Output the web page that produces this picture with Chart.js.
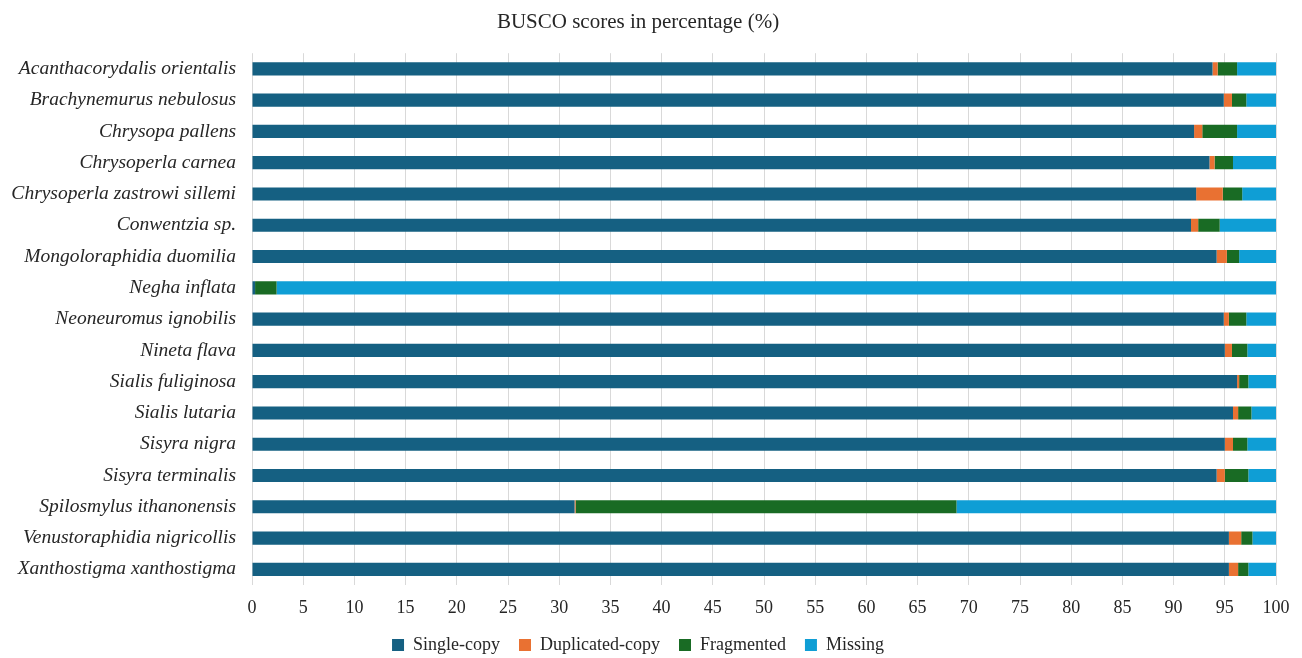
<!DOCTYPE html>
<html>
<head>
<meta charset="utf-8">
<title>BUSCO scores</title>
<script src="https://cdn.jsdelivr.net/npm/chart.js@4"></script>
<style>
  html, body { margin: 0; padding: 0; background: #ffffff; }
  #wrap { width: 1302px; height: 658px; position: relative; }
</style>
</head>
<body>
<div id="wrap"><canvas id="chart" width="1302" height="658"></canvas></div>
<script>
// Species assessed
const species = [
  'Acanthacorydalis orientalis',
  'Brachynemurus nebulosus',
  'Chrysopa pallens',
  'Chrysoperla carnea',
  'Chrysoperla zastrowi sillemi',
  'Conwentzia sp.',
  'Mongoloraphidia duomilia',
  'Negha inflata',
  'Neoneuromus ignobilis',
  'Nineta flava',
  'Sialis fuliginosa',
  'Sialis lutaria',
  'Sisyra nigra',
  'Sisyra terminalis',
  'Spilosmylus ithanonensis',
  'Venustoraphidia nigricollis',
  'Xanthostigma xanthostigma'
];

// BUSCO categories (%)
const singleCopy     = [93.8, 94.9, 92.0, 93.5, 92.2, 91.7, 94.2, 0.3, 94.9, 95.0, 96.2, 95.8, 95.0, 94.2, 31.5, 95.4, 95.4];
const duplicatedCopy = [0.5, 0.8, 0.8, 0.5, 2.6, 0.7, 1.0, 0.0, 0.5, 0.7, 0.2, 0.5, 0.8, 0.8, 0.1, 1.2, 0.9];
const fragmented     = [1.9, 1.4, 3.4, 1.8, 1.9, 2.1, 1.2, 2.1, 1.7, 1.5, 0.9, 1.3, 1.4, 2.3, 37.2, 1.1, 1.0];
const missing        = [3.8, 2.9, 3.8, 4.2, 3.3, 5.5, 3.6, 97.6, 2.9, 2.8, 2.7, 2.4, 2.8, 2.7, 31.2, 2.3, 2.7];

const seriesNames = ['Single-copy', 'Duplicated-copy', 'Fragmented', 'Missing'];
const seriesColors = ['#156082', '#E97132', '#196B24', '#0F9ED5'];
const seriesValues = [singleCopy, duplicatedCopy, fragmented, missing];

const serif = "'Liberation Serif', 'Times New Roman', serif";
const textColor = '#262626';

const datasets = seriesValues.map((vals, i) => ({
  label: seriesNames[i],
  data: vals,
  backgroundColor: seriesColors[i],
  borderWidth: 0,
  barPercentage: 0.42,
  categoryPercentage: 1.0
}));

new Chart(document.getElementById('chart'), {
  type: 'bar',
  data: { labels: species, datasets: datasets },
  options: {
    indexAxis: 'y',
    responsive: false,
    animation: false,
    layout: { padding: { left: 0, right: 26, top: 0, bottom: 0 } },
    plugins: {
      title: {
        display: true,
        text: 'BUSCO scores in percentage (%)',
        color: textColor,
        font: { family: serif, size: 21, weight: 'normal' },
        padding: { top: 10, bottom: 18 }
      },
      legend: {
        position: 'bottom',
        maxHeight: 41,
        labels: {
          color: textColor,
          font: { family: serif, size: 18 },
          boxWidth: 12,
          boxHeight: 12,
          padding: 19
        }
      },
      tooltip: { enabled: false }
    },
    scales: {
      x: {
        stacked: true,
        min: 0,
        max: 100,
        ticks: {
          stepSize: 5,
          color: textColor,
          font: { family: serif, size: 18, lineHeight: 1.0 },
          padding: 14
        },
        grid: { color: '#d9d9d9', drawTicks: false },
        border: { display: false },
        afterFit: (scale) => {
          scale.height = 32;
          scale.paddingLeft = 0;
          scale.paddingRight = 0;
        }
      },
      y: {
        stacked: true,
        ticks: {
          color: textColor,
          font: { family: serif, size: 19.5, style: 'italic' },
          padding: 16
        },
        grid: { display: false, drawTicks: false },
        border: { display: false },
        afterFit: (scale) => { scale.width = 252; }
      }
    }
  }
});
</script>
</body>
</html>
